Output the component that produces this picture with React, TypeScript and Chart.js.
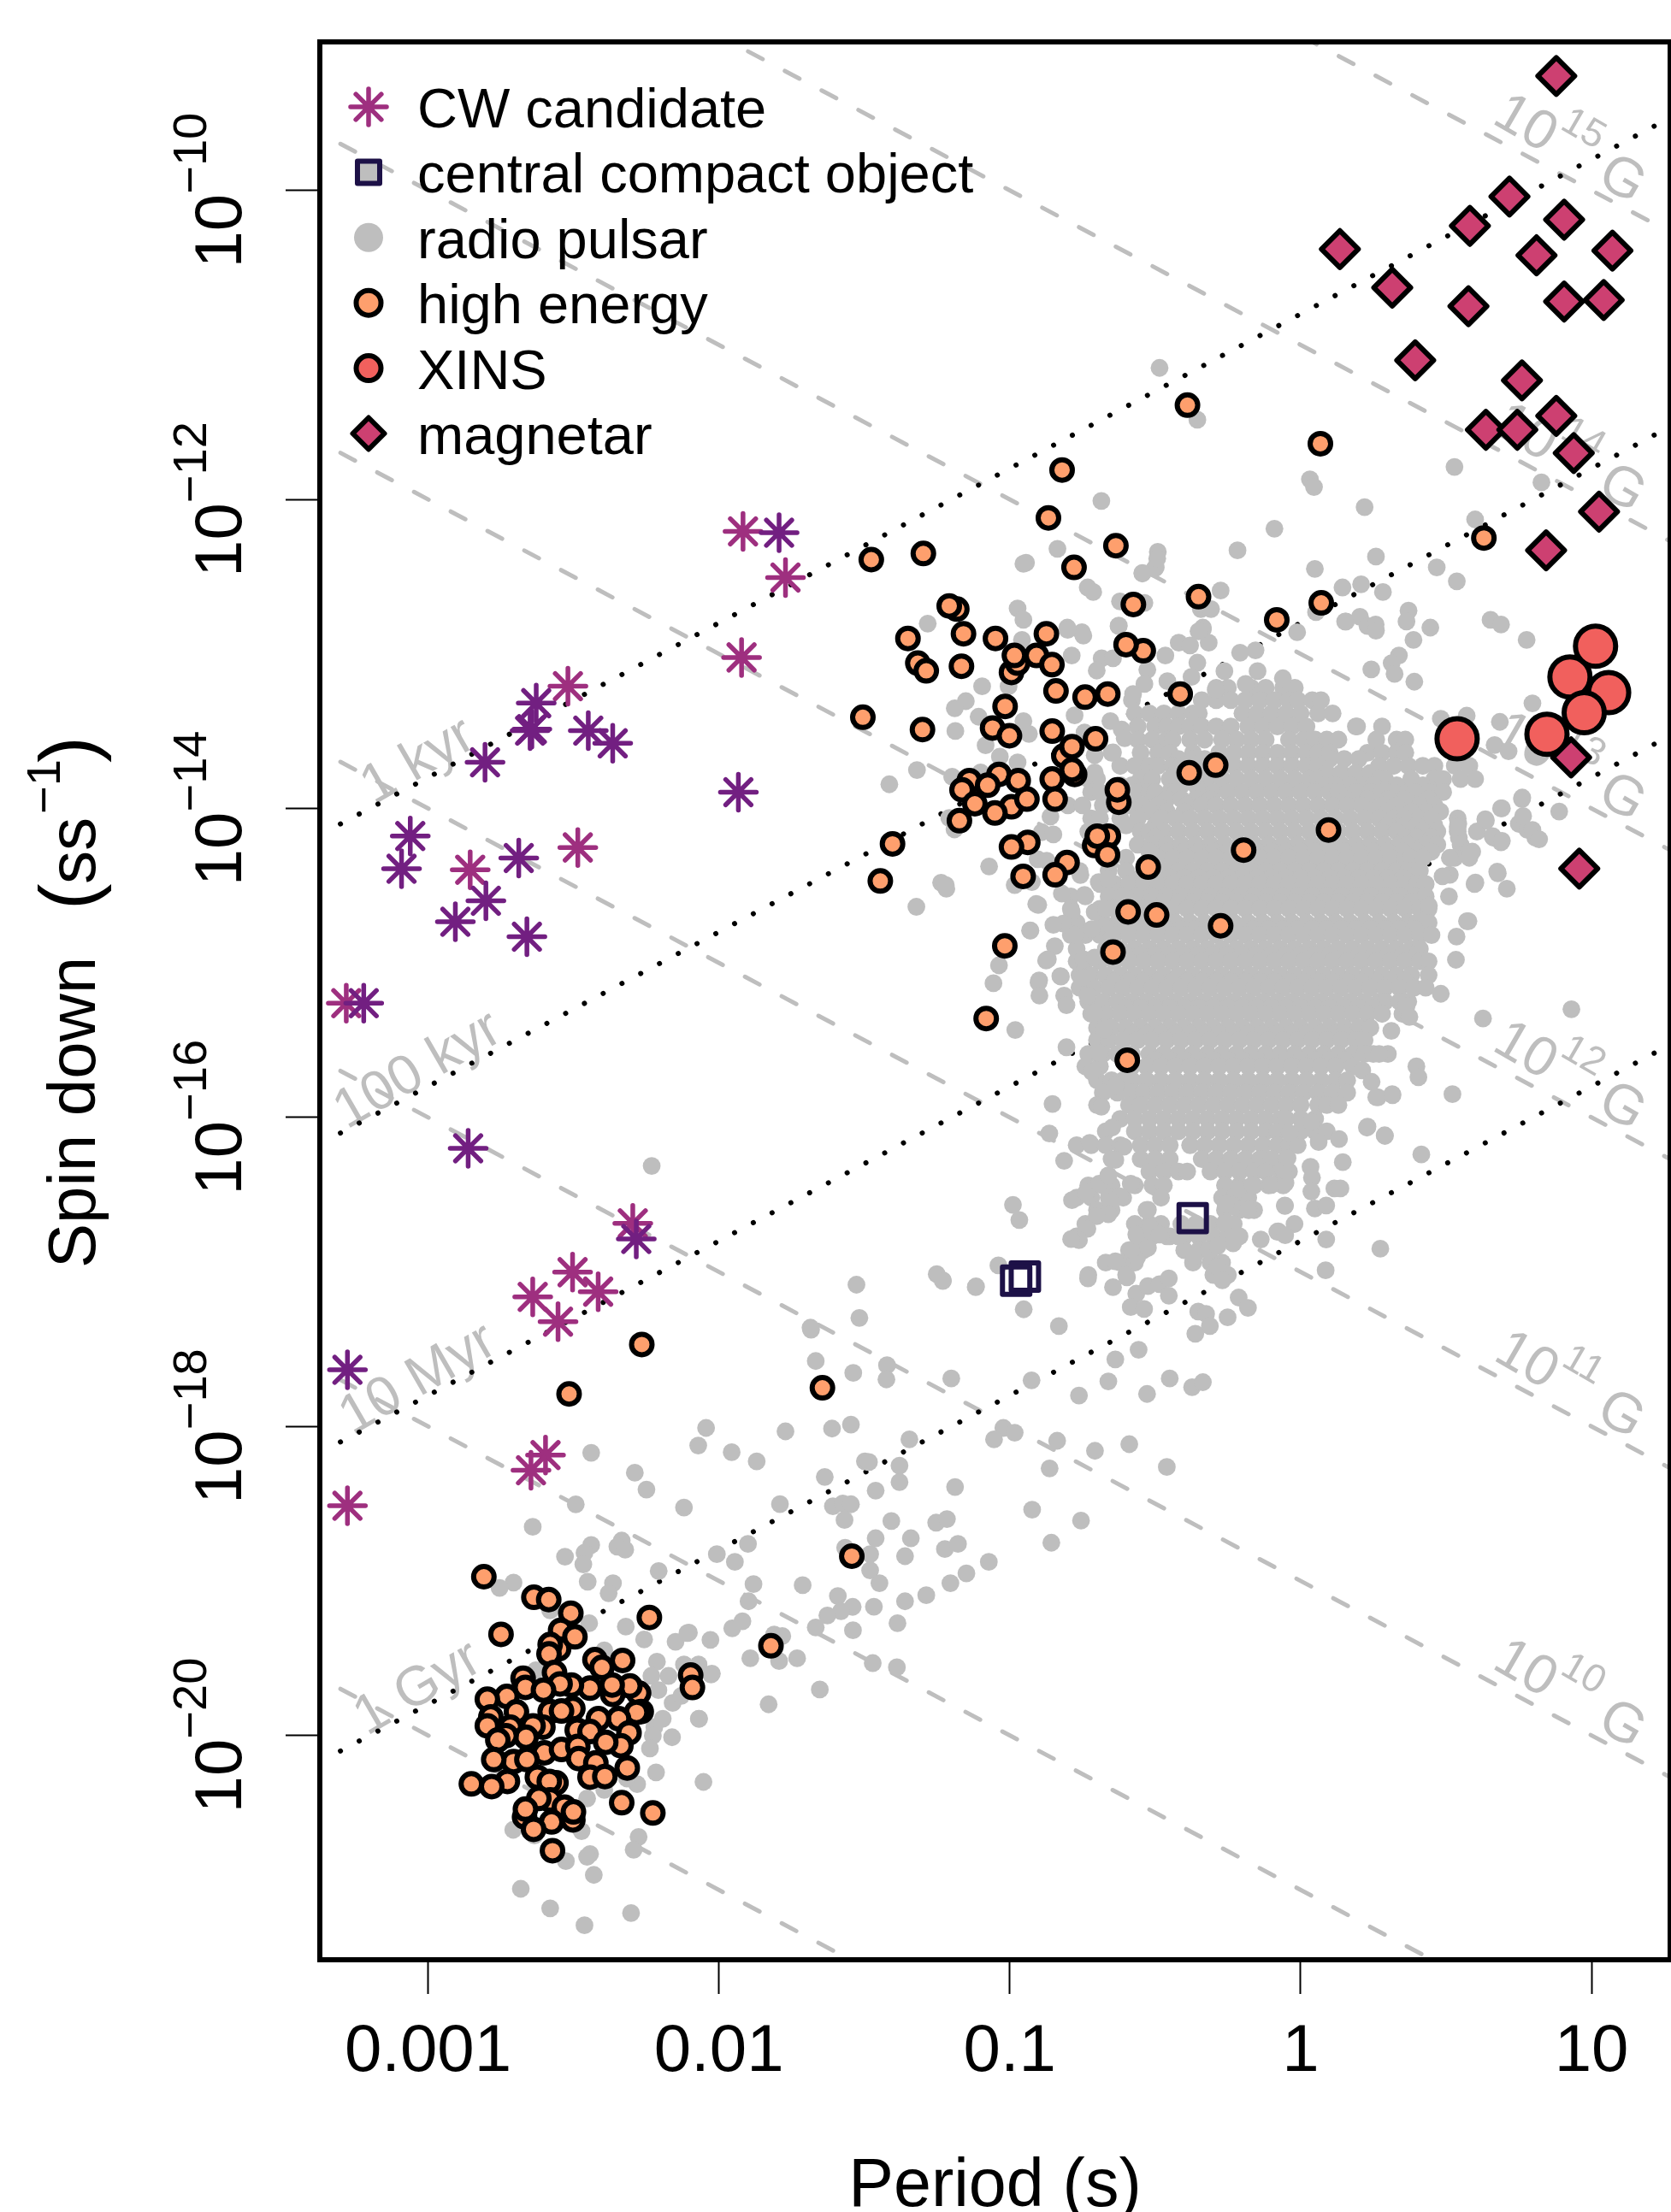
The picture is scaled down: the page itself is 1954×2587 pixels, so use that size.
import React, { useEffect, useRef } from "react";
import { Chart, registerables } from "chart.js";
import { drawPoint } from "chart.js/helpers";

Chart.register(...registerables);

// All values are log10(period / s) and log10(spin-down / s s^-1).
const xTickValues = [0.001, 0.01, 0.1, 1, 10];
const xTickLabels = ["0.001", "0.01", "0.1", "1", "10"];
const yTickValues = [1e-10, 1e-12, 1e-14, 1e-16, 1e-18, 1e-20];
const yTickExponents = ["\u221210", "\u221212", "\u221214", "\u221216", "\u221218", "\u221220"];

const cwMagenta = [
  [-1.917, -12.207], [-1.771, -12.506], [-1.922, -13.023], [-2.519, -13.209], [-2.855, -14.397], [-2.485, -14.253],
  [-3.281, -15.261], [-2.296, -16.686], [-2.503, -17.002], [-2.64, -17.162], [-2.415, -17.128], [-2.553, -17.322],
  [-2.596, -18.186], [-2.646, -18.284], [-3.277, -18.514],
];
const cwPurple = [
  [-1.793, -12.216], [-2.628, -13.319], [-2.643, -13.487], [-2.649, -13.497], [-2.449, -13.497], [-2.365, -13.579],
  [-2.804, -13.702], [-1.933, -13.895], [-3.061, -14.179], [-3.091, -14.391], [-2.688, -14.321], [-2.801, -14.598],
  [-2.906, -14.734], [-2.66, -14.831], [-3.221, -15.261], [-2.862, -16.2], [-2.284, -16.787], [-3.277, -17.634],
];
const centralCompactObjects = [[-0.371, -16.652], [-0.948, -17.03], [-0.978, -17.057]];
const xins = [[1.059, -13.25], [0.926, -13.15], [1.014, -12.95], [0.975, -13.38], [0.847, -13.52], [0.538, -13.55]];
const magnetars = [
  [0.879, -9.26], [0.718, -10.04], [0.906, -10.19], [0.582, -10.23], [1.072, -10.39], [0.811, -10.42], [0.135, -10.38],
  [0.315, -10.63], [0.577, -10.75], [0.906, -10.72], [1.042, -10.71], [0.394, -11.1], [0.761, -11.23], [0.879, -11.46],
  [0.637, -11.55], [0.745, -11.55], [0.939, -11.7], [1.026, -12.08], [0.844, -12.33], [0.93, -13.67], [0.958, -14.39],
];
const highEnergy = [
  [-0.389, -11.39], [0.068, -11.64], [-0.82, -11.81], [-0.867, -12.12], [-0.635, -12.3], [-0.779, -12.44], [0.63, -12.25],
  [-0.575, -12.68], [-0.351, -12.63], [0.071, -12.67], [-0.082, -12.78], [-1.476, -12.39], [-1.297, -12.35],
  [-1.182, -12.71], [-1.208, -12.69], [-1.35, -12.9], [-1.159, -12.87], [-1.049, -12.9], [-0.874, -12.87],
  [-1.316, -13.06], [-1.287, -13.11], [-1.166, -13.08], [-0.994, -13.12], [-0.973, -13.06], [-0.984, -13.01],
  [-0.908, -13.01], [-0.855, -13.07], [-0.541, -12.98], [-0.6, -12.94], [-0.841, -13.24], [-0.741, -13.28],
  [-0.663, -13.26], [-0.414, -13.26], [-1.016, -13.34], [-1.505, -13.41], [-1.3, -13.49], [-1.059, -13.48],
  [-1.001, -13.53], [-0.854, -13.5], [-0.705, -13.55], [-0.814, -13.66], [-0.786, -13.6], [-0.777, -13.78],
  [-0.786, -13.75], [-0.854, -13.81], [-0.383, -13.77], [-0.292, -13.72], [-1.139, -13.82], [-1.037, -13.78],
  [-1.076, -13.85], [-1.164, -13.88], [-0.971, -13.82], [-0.994, -13.99], [-1.12, -13.97], [-0.941, -13.94],
  [-1.051, -14.03], [-1.173, -14.08], [-0.844, -13.94], [-0.625, -13.96], [-0.63, -13.88], [-1.403, -14.23],
  [-1.445, -14.47], [-0.938, -14.22], [-0.994, -14.25], [-0.661, -14.18], [-0.708, -14.24], [-0.699, -14.18],
  [-0.664, -14.3], [-0.803, -14.35], [-0.844, -14.43], [-0.954, -14.44], [-0.524, -14.38], [-0.196, -14.27],
  [-0.593, -14.67], [-0.495, -14.69], [-0.275, -14.76], [-1.017, -14.89], [-0.645, -14.93], [-1.081, -15.36],
  [-0.596, -15.63], [0.096, -14.14], [-2.265, -17.47], [-2.515, -17.79], [-1.644, -17.75], [-1.543, -18.84],
  [-1.821, -19.42], [-2.097, -19.61], [-2.091, -19.69],
  [-2.808, -18.973], [-2.636, -19.106], [-2.585, -19.121], [-2.509, -19.209], [-2.749, -19.346], [-2.544, -19.32],
  [-2.551, -19.44], [-2.58, -19.412], [-2.495, -19.362], [-2.584, -19.473], [-2.239, -19.237], [-2.426, -19.51],
  [-2.331, -19.515], [-2.402, -19.56], [-2.565, -19.593], [-2.673, -19.63], [-2.665, -19.689], [-2.729, -19.748],
  [-2.276, -19.726], [-2.306, -19.68], [-2.267, -19.846], [-2.283, -19.851], [-2.345, -19.892], [-2.365, -19.735],
  [-2.367, -19.674], [-2.443, -19.694], [-2.507, -19.674], [-2.546, -19.667], [-2.603, -19.707], [-2.796, -19.766],
  [-2.784, -19.881], [-2.696, -19.848], [-2.502, -19.827], [-2.58, -19.846], [-2.541, -19.842], [-2.414, -19.892],
  [-2.717, -19.947], [-2.605, -19.947], [-2.639, -19.938], [-2.796, -19.938], [-2.663, -20.012], [-2.732, -20.002],
  [-2.76, -20.03], [-2.309, -19.984], [-2.487, -19.966], [-2.443, -19.975], [-2.337, -20.067], [-2.389, -20.045],
  [-2.6, -20.113], [-2.541, -20.091], [-2.485, -20.071], [-2.482, -20.15], [-2.423, -20.178], [-2.706, -20.169],
  [-2.66, -20.156], [-2.774, -20.156], [-2.315, -20.211], [-2.443, -20.27], [-2.392, -20.266], [-2.624, -20.27],
  [-2.56, -20.307], [-2.583, -20.298], [-2.727, -20.298], [-2.851, -20.314], [-2.781, -20.331], [-2.58, -20.418],
  [-2.619, -20.408], [-2.531, -20.464], [-2.502, -20.547], [-2.5, -20.495], [-2.668, -20.528], [-2.665, -20.477],
  [-2.575, -20.56], [-2.637, -20.608], [-2.334, -20.436], [-2.227, -20.502], [-2.572, -20.746],
];
const radioSparse = [
  [-0.485, -11.149], [-0.355, -11.485], [0.529, -11.79], [0.032, -11.87], [0.046, -11.92], [0.828, -11.89], [-0.685, -12.01],
  [0.22, -12.05], [0.6, -12.13], [-0.09, -12.19], [-0.217, -12.33], [0.259, -12.37], [0.049, -12.45], [0.468, -12.44],
  [0.537, -12.53], [-0.836, -12.32], [-0.491, -12.34], [-0.498, -12.44], [-0.544, -12.48], [-0.732, -12.57], [-0.713, -12.6],
  [-0.621, -12.66], [-0.537, -12.67], [-0.275, -12.59], [-0.343, -12.71], [-0.308, -12.71], [0.144, -12.57], [0.208, -12.55],
  [0.283, -12.6], [0.053, -12.73], [0.371, -12.72], [0.364, -12.79], [0.156, -12.79], [0.204, -12.76], [0.23, -12.82],
  [0.258, -12.81], [0.446, -12.83], [0.653, -12.78], [0.689, -12.81], [-0.626, -12.82], [-0.802, -12.83], [-0.752, -12.86],
  [-0.336, -12.83], [-0.012, -12.86], [-0.944, -12.41], [-0.953, -12.417], [-0.502, -12.448], [-0.544, -12.476],
  [-0.493, -12.383], [-1.282, -12.804], [-0.973, -12.706], [-0.953, -12.78], [-0.958, -12.909], [-0.801, -12.845],
  [-0.747, -12.882], [-0.625, -12.817], [-0.787, -13.011], [-0.419, -12.928], [-0.38, -12.946], [-0.336, -12.841],
  [-0.316, -12.928], [-0.351, -12.854], [-0.208, -12.992], [-0.155, -12.977], [-0.465, -13.011], [-0.684, -13.029],
  [-0.645, -13.029], [-0.701, -13.108], [-0.527, -13.103], [-0.355, -13.057], [-0.375, -13.149], [-0.262, -13.112],
  [-0.148, -13.112], [-0.061, -13.158], [-0.458, -13.177], [-0.537, -13.195], [-0.576, -13.26], [-0.292, -13.232],
  [-0.189, -13.195], [-1.095, -13.21], [-1.004, -13.21], [-1.151, -13.306], [-1.189, -13.352], [-1.107, -13.407],
  [-0.953, -13.435], [-0.934, -13.518], [-1.187, -13.499], [-1.083, -13.592], [-1.034, -13.665], [-0.973, -13.702],
  [-0.777, -13.398], [-0.743, -13.509], [-0.654, -13.435], [-0.615, -13.49], [-0.605, -13.546], [-0.645, -13.638],
  [-0.708, -13.656], [-0.708, -13.767], [-1.319, -13.752], [-1.414, -13.844], [-1.198, -13.795], [-1.1, -13.767],
  [-1.208, -14.062], [-1.19, -14.136], [-0.86, -14.053], [-0.89, -14.154], [-0.85, -14.169], [-1.071, -14.376],
  [-1.236, -14.481], [-1.218, -14.52], [-1.321, -14.637], [-0.904, -14.329], [-0.873, -14.339], [-0.924, -14.477],
  [-0.983, -14.496], [-0.757, -14.431], [-0.694, -14.477], [-0.661, -14.459], [-0.902, -14.625], [-0.743, -14.56],
  [-0.821, -14.551], [-0.787, -14.671], [-0.708, -14.671], [-0.816, -14.745], [-0.85, -14.754], [-0.929, -14.791],
  [-0.669, -14.652], [-0.718, -14.781], [-0.777, -14.818], [-0.649, -14.837], [-0.845, -14.892], [-0.747, -14.976],
  [-0.708, -14.966], [-0.875, -14.985], [-0.826, -15.086], [-0.899, -15.113], [-1.037, -15.016], [-1.056, -15.132],
  [-0.747, -15.095], [-1.22, -14.496], [-0.901, -15.126], [-0.898, -15.212], [-0.981, -15.434], [-0.805, -15.546],
  [-0.813, -15.212], [-0.805, -15.274], [-0.824, -15.089], [-0.869, -14.977], [-0.909, -14.619], [-0.93, -14.79],
  [-0.733, -15.212], [-0.709, -15.323], [-0.677, -15.434], [-0.693, -15.583], [-0.717, -15.706],
  [0.761, -13.94], [0.689, -14.0], [0.637, -14.08], [0.606, -14.15], [0.663, -14.19], [0.689, -14.22], [0.75, -14.1],
  [0.78, -14.14], [0.807, -14.19], [0.542, -14.1], [0.544, -14.19], [0.59, -14.28], [0.513, -14.32], [0.513, -14.43],
  [0.488, -14.44], [0.678, -14.42], [0.709, -14.52], [0.598, -14.49], [0.51, -14.57], [0.441, -14.63], [0.577, -14.73],
  [0.536, -14.83], [0.534, -14.98], [0.482, -15.2], [0.627, -15.36], [0.312, -15.44], [0.364, -15.28], [0.374, -15.35],
  [0.27, -15.59], [0.398, -15.67], [0.405, -15.74], [0.522, -15.85], [0.315, -15.85], [0.266, -15.87], [0.23, -16.06],
  [0.29, -16.12], [0.415, -16.24], [0.145, -16.29], [0.132, -16.14], [0.062, -16.16], [0.116, -16.46], [0.137, -16.46],
  [0.034, -16.32], [0.039, -16.39], [0.037, -16.48], [0.049, -16.59], [0.088, -16.57], [-0.054, -16.57], [-0.021, -16.69],
  [-0.08, -16.74], [-0.137, -16.79], [0.088, -16.79], [0.274, -16.85], [0.086, -16.99], [-0.178, -16.6], [0.931, -15.3],
  [0.777, -12.91], [0.388, -12.91], [0.338, -13.01], [0.313, -13.06], [0.391, -13.18], [0.243, -13.1], [0.194, -13.47],
  [0.323, -13.13], [0.153, -12.79], [0.259, -12.85], [0.571, -13.4], [0.482, -13.42], [0.685, -13.44], [0.797, -13.32],
  [0.762, -13.93], [0.889, -14.02], [0.667, -13.59], [0.812, -13.65], [0.715, -13.63], [0.54, -14.12], [0.635, -14.07],
  [0.692, -14.0], [0.66, -14.18], [0.692, -14.21], [0.765, -14.05], [0.797, -14.14], [0.82, -14.2], [0.676, -14.41],
  [0.601, -14.48], [0.572, -14.73], [0.212, -15.696], [0.244, -15.77], [0.26, -15.869], [0.316, -15.856],
  [-0.989, -16.566], [-0.967, -16.664], [-1.039, -16.958], [-1.117, -17.099], [-1.23, -17.055], [-0.952, -17.242],
  [-0.831, -17.351], [-0.731, -17.042], [-0.645, -17.099], [-0.597, -17.035], [-0.565, -17.141], [-0.584, -17.228],
  [-0.538, -17.24], [-0.525, -17.092], [-0.485, -17.079], [-0.453, -17.042], [-0.453, -17.154], [-0.557, -17.504],
  [-0.637, -17.566], [-1.201, -17.69], [-0.925, -17.702], [-0.762, -17.8], [-0.661, -17.709], [-0.528, -17.79],
  [-0.45, -17.69], [-0.373, -17.746], [-0.336, -17.714], [-0.213, -17.166], [-0.181, -17.233], [-0.251, -17.294],
  [-0.352, -17.257], [-0.325, -17.272], [-0.312, -17.351], [-0.362, -17.4], [-0.285, -16.968], [-0.269, -17.055],
  [-0.232, -16.815], [-0.077, -16.738], [-0.053, -16.763], [-0.054, -16.573], [-0.181, -16.598], [-0.813, -16.281],
  [-0.725, -16.165], [-0.864, -16.104], [-0.853, -15.913], [-0.685, -15.931], [-0.637, -15.795], [-0.648, -16.066],
  [-0.608, -16.19], [-0.637, -16.276], [-0.786, -16.536], [-0.738, -16.487], [-0.693, -16.43], [-0.661, -16.375],
  [-0.584, -16.43], [-0.621, -16.511], [-0.653, -16.548], [-0.661, -16.627], [-0.701, -16.64], [-0.733, -16.721],
  [-0.762, -16.795], [-0.789, -16.788], [-0.637, -16.931], [-0.562, -16.906], [-0.581, -16.857], [-0.525, -16.845],
  [-0.565, -16.758], [-0.517, -16.709], [-0.525, -16.598], [-0.485, -16.758], [-0.421, -16.77], [-0.365, -16.894],
  [-0.317, -16.857], [-0.285, -16.832], [-0.261, -16.684], [-0.258, -16.56], [-0.213, -16.462], [-0.165, -16.437],
  [-0.101, -16.437], [-0.052, -16.425], [-0.06, -16.338], [-0.045, -16.264], [0.004, -16.079], [0.036, -16.029],
  [-0.037, -16.104], [0.228, -16.066], [0.289, -16.116],
  [-1.683, -17.374], [-1.667, -17.577], [-1.538, -17.654], [-1.422, -17.604], [-1.424, -17.696], [-2.044, -18.01],
  [-2.071, -18.124], [-1.956, -18.167], [-1.87, -18.226], [-1.771, -18.032], [-1.611, -18.014], [-1.546, -17.988],
  [-1.345, -18.084], [-1.022, -18.01], [-0.983, -18.041], [-1.054, -18.084], [-0.837, -18.093], [-0.863, -18.272],
  [-0.707, -18.158], [-0.589, -18.115], [-0.46, -18.263], [-1.498, -18.226], [-1.484, -18.231], [-1.636, -18.327],
  [-1.379, -18.254], [-1.379, -18.361], [-1.461, -18.416], [-1.188, -18.392], [-1.79, -18.503], [-1.608, -18.517],
  [-1.574, -18.499], [-1.546, -18.504], [-1.568, -18.606], [-1.407, -18.613], [-1.253, -18.623], [-1.216, -18.6],
  [-0.923, -18.539], [-0.755, -18.61], [-0.857, -18.753], [-1.461, -18.724], [-1.34, -18.724], [-1.36, -18.84],
  [-1.223, -18.794], [-1.178, -18.761], [-1.072, -18.877], [-1.149, -18.951], [-1.204, -19.015], [-1.287, -19.093],
  [-1.36, -19.132], [-1.9, -18.761], [-2.007, -18.827], [-1.945, -18.877], [-1.881, -19.021], [-1.712, -19.028],
  [-1.898, -19.132], [-1.591, -19.098], [-1.54, -19.168], [-1.58, -19.196], [-1.627, -19.224], [-1.467, -19.167],
  [-1.667, -19.301], [-1.539, -19.32], [-1.386, -19.274], [-1.566, -18.785], [-1.48, -18.827], [-1.48, -18.932],
  [-1.448, -19.015], [-1.919, -19.261], [-1.954, -19.307], [-2.103, -19.335], [-2.029, -19.382], [-1.81, -19.347],
  [-1.782, -19.357], [-1.892, -19.501], [-1.793, -19.519], [-1.731, -19.501], [-1.471, -19.532], [-1.388, -19.559],
  [-2.024, -19.6], [-2.069, -19.569], [-1.653, -19.703], [-1.829, -19.799], [-2.069, -19.892],
  [-2.231, -16.314], [-1.527, -17.083], [-1.251, -17.015], [-1.23, -17.059], [-1.116, -17.094], [-1.517, -17.298],
  [-1.685, -17.361], [-2.439, -18.171], [-2.289, -18.3], [-2.249, -18.409], [-2.12, -18.525], [-2.492, -18.505],
  [-2.64, -18.65], [-2.529, -18.843], [-2.439, -18.768], [-2.462, -18.818], [-2.466, -18.893], [-2.334, -18.739],
  [-2.349, -18.778], [-2.322, -18.798], [-2.207, -18.936], [-2.451, -19.005], [-2.364, -19.015], [-2.706, -19.011],
  [-2.754, -19.045], [-2.379, -19.08], [-2.32, -19.296], [-2.446, -19.274], [-2.58, -19.191], [-2.257, -19.379],
  [-2.149, -19.394], [-2.108, -19.338], [-2.213, -19.523], [-2.232, -19.615], [-2.173, -19.615], [-2.208, -19.707],
  [-2.07, -19.541], [-2.027, -19.606], [-2.12, -19.541], [-2.159, -19.79], [-2.129, -19.744], [-2.193, -19.892],
  [-2.222, -19.947], [-2.227, -20.002], [-2.237, -20.085], [-2.161, -20.012], [-2.068, -19.892], [-2.216, -20.239],
  [-2.281, -20.316], [-2.316, -20.279], [-2.053, -20.301], [-2.394, -19.449], [-2.629, -19.578], [-2.453, -20.408],
  [-2.394, -20.353], [-2.472, -20.62], [-2.707, -20.611], [-2.634, -20.648], [-2.276, -20.657], [-2.293, -20.74],
  [-2.443, -20.768], [-2.453, -20.786], [-2.526, -20.814], [-2.43, -20.903], [-2.681, -20.993], [-2.58, -21.119],
  [-2.462, -21.229], [-2.302, -21.15],
];
// Dense body of the radio pulsar cloud, one row per spin-down value: [log10 Pdot, [log10 P, ...]]
const radioCoreRows: [number, number[]][] = [
  [-13.22, [-0.29, -0.25, -0.17, -0.12, -0.06, -0.02]],
  [-13.3, [-0.58, -0.34, -0.29, -0.24, -0.19, -0.14, -0.09, -0.04, -0.01, 0.04, 0.07]],
  [-13.385, [-0.57, -0.52, -0.47, -0.42, -0.37, -0.35, -0.2, -0.15, -0.1, -0.05, 0, 0.06, 0.11]],
  [-13.47, [-0.56, -0.5, -0.46, -0.42, -0.38, -0.34, -0.29, -0.24, -0.18, -0.13, -0.08, -0.03, 0.02, 0.19, 0.28]],
  [-13.555, [-0.56, -0.51, -0.46, -0.44, -0.38, -0.33, -0.27, -0.22, -0.17, -0.12, -0.04, 0.01, 0.05, 0.09, 0.13, 0.26, 0.33, 0.36]],
  [-13.64, [-0.65, -0.55, -0.49, -0.45, -0.37, -0.28, -0.23, -0.18, -0.13, -0.08, -0.03, 0.02, 0.06, 0.1, 0.23, 0.28, 0.33, 0.36]],
  [-13.68, [-0.42, -0.37, -0.33, 0.1, 0.15, 0.2]],
  [-13.725, [-0.62, -0.57, -0.52, -0.49, -0.44, -0.41, -0.28, -0.23, -0.18, -0.13, -0.08, -0.03, 0.02, 0.06, 0.27, 0.32, 0.37, 0.42, 0.46, 0.53, 0.58]],
  [-13.77, [-0.43, -0.36, -0.32, 0.09, 0.14, 0.19, 0.24]],
  [-13.81, [-0.73, -0.7, -0.55, -0.51, -0.45, -0.4, -0.37, -0.32, -0.27, -0.22, -0.17, -0.12, -0.07, -0.02, 0.03, 0.06, 0.27, 0.29, 0.38, 0.46, 0.49, 0.55, 0.6]],
  [-13.85, [-0.62, -0.58, -0.41, -0.36, 0.08, 0.12, 0.17, 0.22, 0.25, 0.33, 0.42]],
  [-13.895, [-0.72, -0.69, -0.57, -0.52, -0.5, -0.45, -0.43, -0.35, -0.3, -0.25, -0.2, -0.15, -0.1, -0.05, 0, 0.05, 0.1, 0.13, 0.19, 0.24, 0.28, 0.32, 0.37, 0.39, 0.44, 0.49]],
  [-13.94, [-0.46, -0.41, -0.36, -0.31, 0.16, 0.23, 0.3, 0.36, 0.44]],
  [-13.98, [-0.8, -0.75, -0.68, -0.59, -0.54, -0.49, -0.39, -0.34, -0.29, -0.24, -0.19, -0.14, -0.09, -0.04, 0.01, 0.06, 0.11, 0.16, 0.21, 0.28, 0.33, 0.41, 0.46]],
  [-14.02, [-0.52, -0.46, -0.4, 0.25, 0.3, 0.38, 0.43, 0.48]],
  [-14.065, [-0.72, -0.69, -0.62, -0.56, -0.48, -0.43, -0.38, -0.33, -0.28, -0.23, -0.18, -0.13, -0.08, -0.03, 0.02, 0.07, 0.12, 0.17, 0.22, 0.27, 0.32, 0.36, 0.41, 0.45, 0.54]],
  [-14.11, [-0.6, -0.5, 0.3, 0.36, 0.4, 0.46]],
  [-14.15, [-0.73, -0.68, -0.55, -0.52, -0.47, -0.42, -0.37, -0.32, -0.27, -0.22, -0.17, -0.12, -0.07, -0.02, 0.03, 0.08, 0.13, 0.18, 0.23, 0.28, 0.33, 0.42, 0.47, 0.54]],
  [-14.19, [-0.5, 0.36, 0.4, 0.45]],
  [-14.235, [-0.69, -0.56, -0.51, -0.46, -0.41, -0.36, -0.31, -0.26, -0.21, -0.16, -0.11, -0.06, -0.01, 0.04, 0.09, 0.14, 0.19, 0.24, 0.29, 0.34, 0.37, 0.43, 0.47, 0.55]],
  [-14.28, [-0.52, -0.46, -0.4, -0.35, -0.3, -0.25, -0.2, -0.15, -0.1, -0.05, 0, 0.05, 0.1, 0.15, 0.2, 0.25, 0.3, 0.35, 0.4, 0.45]],
  [-14.32, [-0.65, -0.6, -0.49, -0.44, -0.39, -0.34, -0.29, -0.24, -0.19, -0.14, -0.09, -0.04, 0.01, 0.06, 0.11, 0.16, 0.21, 0.26, 0.31, 0.36, 0.38, 0.42, 0.53, 0.58]],
  [-14.405, [-0.76, -0.66, -0.6, -0.47, -0.42, -0.37, -0.32, -0.27, -0.22, -0.17, -0.12, -0.07, -0.02, 0.03, 0.08, 0.13, 0.18, 0.23, 0.28, 0.33, 0.37, 0.41]],
  [-14.45, [-0.55, -0.5, -0.45, -0.4, -0.35, -0.3, -0.25, -0.2, -0.15, -0.1, -0.05, 0, 0.05, 0.1, 0.15, 0.2, 0.25, 0.3, 0.35]],
  [-14.49, [-0.69, -0.64, -0.59, -0.54, -0.49, -0.44, -0.39, -0.34, -0.29, -0.24, -0.19, -0.14, -0.09, -0.04, 0.01, 0.06, 0.11, 0.16, 0.21, 0.26, 0.31, 0.36, 0.4, 0.43]],
  [-14.57, [-0.79, -0.74, -0.66, -0.61, -0.56, -0.51, -0.46, -0.41, -0.36, -0.31, -0.26, -0.21, -0.16, -0.11, -0.06, -0.01, 0.04, 0.09, 0.14, 0.19, 0.24, 0.29, 0.34, 0.39, 0.43]],
  [-14.61, [-0.62, -0.57, -0.52, -0.47, -0.42, -0.37, -0.32, -0.27, -0.22, -0.17, -0.12, -0.07, -0.02, 0.03, 0.08, 0.13, 0.18, 0.23, 0.28, 0.33, 0.38]],
  [-14.65, [-0.79, -0.69, -0.64, -0.59, -0.54, -0.49, -0.44, -0.39, -0.34, -0.29, -0.24, -0.19, -0.14, -0.09, -0.04, 0.01, 0.06, 0.11, 0.16, 0.21, 0.26, 0.31, 0.36, 0.41, 0.44]],
  [-14.74, [-0.77, -0.68, -0.63, -0.58, -0.53, -0.48, -0.43, -0.38, -0.33, -0.28, -0.23, -0.18, -0.13, -0.08, -0.03, 0.02, 0.07, 0.12, 0.17, 0.22, 0.27, 0.32, 0.37, 0.4, 0.44]],
  [-14.78, [-0.66, -0.61, -0.56, -0.51, -0.46, -0.41, -0.36, -0.31, -0.26, -0.21, -0.16, -0.11, -0.06, -0.01, 0.04, 0.09, 0.14, 0.19, 0.24, 0.29, 0.34, 0.39]],
  [-14.82, [-0.79, -0.74, -0.69, -0.64, -0.59, -0.54, -0.49, -0.44, -0.39, -0.34, -0.29, -0.24, -0.19, -0.14, -0.09, -0.04, 0.01, 0.06, 0.11, 0.16, 0.21, 0.26, 0.31, 0.36, 0.41, 0.45]],
  [-14.91, [-0.77, -0.67, -0.62, -0.57, -0.52, -0.47, -0.42, -0.37, -0.32, -0.27, -0.22, -0.17, -0.12, -0.07, -0.02, 0.03, 0.08, 0.13, 0.18, 0.23, 0.28, 0.33, 0.38, 0.41]],
  [-14.95, [-0.65, -0.6, -0.55, -0.5, -0.45, -0.4, -0.35, -0.3, -0.25, -0.2, -0.15, -0.1, -0.05, 0, 0.05, 0.1, 0.15, 0.2, 0.25, 0.3, 0.35, 0.4]],
  [-14.99, [-0.77, -0.74, -0.69, -0.64, -0.59, -0.54, -0.49, -0.44, -0.39, -0.34, -0.29, -0.24, -0.19, -0.14, -0.09, -0.04, 0.01, 0.06, 0.11, 0.16, 0.21, 0.26, 0.31, 0.36, 0.41, 0.44]],
  [-15.08, [-0.76, -0.72, -0.67, -0.62, -0.57, -0.52, -0.47, -0.42, -0.37, -0.32, -0.27, -0.22, -0.17, -0.12, -0.07, -0.02, 0.03, 0.08, 0.13, 0.18, 0.23, 0.28, 0.33, 0.38, 0.44]],
  [-15.12, [-0.64, -0.59, -0.54, -0.49, -0.44, -0.39, -0.34, -0.29, -0.24, -0.19, -0.14, -0.09, -0.04, 0.01, 0.06, 0.11, 0.16, 0.21, 0.26, 0.31, 0.36]],
  [-15.16, [-0.76, -0.71, -0.66, -0.61, -0.56, -0.51, -0.46, -0.41, -0.36, -0.31, -0.26, -0.21, -0.16, -0.11, -0.06, -0.01, 0.04, 0.09, 0.14, 0.19, 0.24, 0.29, 0.34, 0.39, 0.43]],
  [-15.25, [-0.73, -0.68, -0.63, -0.58, -0.53, -0.48, -0.43, -0.38, -0.33, -0.28, -0.23, -0.18, -0.13, -0.08, -0.03, 0.02, 0.07, 0.12, 0.17, 0.22, 0.27, 0.29, 0.34, 0.37]],
  [-15.29, [-0.6, -0.55, -0.5, -0.45, -0.4, -0.35, -0.3, -0.25, -0.2, -0.15, -0.1, -0.05, 0, 0.05, 0.1, 0.15, 0.2, 0.25]],
  [-15.33, [-0.72, -0.67, -0.62, -0.57, -0.52, -0.47, -0.42, -0.37, -0.32, -0.27, -0.22, -0.17, -0.12, -0.07, -0.02, 0.03, 0.08, 0.13, 0.18, 0.23, 0.28, 0.35]],
  [-15.42, [-0.7, -0.65, -0.6, -0.55, -0.5, -0.45, -0.4, -0.35, -0.3, -0.25, -0.2, -0.15, -0.1, -0.05, 0, 0.05, 0.1, 0.15, 0.2, 0.24]],
  [-15.46, [-0.58, -0.53, -0.48, -0.43, -0.38, -0.33, -0.28, -0.23, -0.18, -0.13, -0.08, -0.03, 0.02, 0.07, 0.12, 0.15]],
  [-15.5, [-0.7, -0.66, -0.61, -0.56, -0.51, -0.46, -0.41, -0.36, -0.31, -0.26, -0.21, -0.16, -0.11, -0.06, -0.01, 0.04, 0.09, 0.14, 0.19, 0.22]],
  [-15.59, [-0.73, -0.68, -0.63, -0.58, -0.52, -0.47, -0.42, -0.37, -0.32, -0.27, -0.22, -0.17, -0.12, -0.07, -0.02, 0.03, 0.08, 0.13, 0.18, 0.22, 0.25, 0.3]],
  [-15.63, [-0.5, -0.45, -0.4, -0.35, -0.3, -0.25, -0.2, -0.15, -0.1, -0.05, 0, 0.05, 0.1, 0.15]],
  [-15.67, [-0.74, -0.69, -0.58, -0.53, -0.48, -0.43, -0.38, -0.33, -0.28, -0.23, -0.18, -0.13, -0.08, -0.03, 0.02, 0.07, 0.12, 0.18]],
  [-15.76, [-0.7, -0.65, -0.61, -0.58, -0.53, -0.48, -0.43, -0.38, -0.33, -0.28, -0.23, -0.18, -0.13, -0.08, -0.03, 0.02, 0.07, 0.12, 0.16]],
  [-15.84, [-0.68, -0.63, -0.58, -0.54, -0.49, -0.44, -0.39, -0.34, -0.29, -0.24, -0.19, -0.14, -0.09, -0.04, 0.01, 0.06, 0.11, 0.16]],
  [-15.92, [-0.7, -0.59, -0.55, -0.5, -0.45, -0.4, -0.35, -0.3, -0.25, -0.2, -0.15, -0.1, -0.05, 0, 0.06, 0.09, 0.13]],
  [-16.01, [-0.62, -0.57, -0.52, -0.47, -0.42, -0.37, -0.32, -0.27, -0.22, -0.17, -0.12, -0.07, -0.05, 0, 0.05]],
  [-16.09, [-0.67, -0.57, -0.52, -0.47, -0.42, -0.37, -0.32, -0.27, -0.22, -0.17, -0.12, -0.08, 0, 0.05, 0.09]],
  [-16.18, [-0.77, -0.72, -0.67, -0.62, -0.55, -0.5, -0.45, -0.38, -0.33, -0.28, -0.23, -0.18, -0.13, -0.08, -0.04, -0.01]],
  [-16.27, [-0.65, -0.55, -0.5, -0.45, -0.34, -0.29, -0.24, -0.19, -0.14, -0.1, -0.05]],
  [-16.35, [-0.52, -0.47, -0.42, -0.39, -0.31, -0.26, -0.21, -0.16, -0.12, -0.07, -0.04]],
  [-16.44, [-0.73, -0.68, -0.65, -0.57, -0.51, -0.47, -0.26, -0.21, -0.16, -0.11, -0.06]],
  [-16.52, [-0.77, -0.72, -0.66, -0.61, -0.48, -0.27, -0.23, -0.18]],
  [-16.6, [-0.7, -0.65, -0.53, -0.26, -0.21, -0.16]],
  [-16.69, [-0.74, -0.57, -0.52, -0.48, -0.41, -0.36, -0.31, -0.26, -0.23]],
  [-16.77, [-0.77, -0.56, -0.51, -0.46, -0.45, -0.4, -0.35, -0.3, -0.25, -0.21]],
  [-16.86, [-0.59, -0.54, -0.4, -0.35, -0.31]],
  [-16.94, [-0.67, -0.62, -0.57, -0.37, -0.31, -0.27]],
  [-17.02, [-0.73, -0.6, -0.3, -0.25]],
];

// Line end points
const ageLineStartLogP = [-3.301, -3.301, -3.301, -3.301];
const ageLineStartLogPdot = [-14.101, -16.101, -18.101, -20.101];
const ageLineEndLogP = [1.3, 1.3, 1.3, 1.3];
const ageLineEndLogPdot = [-9.5, -11.5, -13.5, -15.5];
const fieldLineStartLogP = [0.005, -2.026, -3.301, -3.301, -3.301, -3.301, -3.301, -3.301];
const fieldLineStartLogPdot = [-9.005, -8.974, -9.699, -11.699, -13.699, -15.699, -17.699, -19.699];
const fieldLineEndLogP = [1.3, 1.3, 1.3, 1.3, 1.3, 1.3, 1.3, 1.3];
const fieldLineEndLogPdot = [-10.3, -12.3, -14.3, -16.3, -18.3, -20.3, -22.3, -24.3];

// In-plot annotations
const fieldLabelExponents = ["15", "14", "13", "12", "11", "10"];
const fieldLabelLogP = [0.93, 0.93, 0.93, 0.93, 0.93, 0.93];
const fieldLabelLogPdot = [-9.72, -11.72, -13.72, -15.72, -17.72, -19.72];
const ageLabels = ["1 kyr", "100 kyr", "10 Myr", "1 Gyr"];
const ageLabelLogP = [-3.04, -3.04, -3.04, -3.04];
const ageLabelLogPdot = [-13.68, -15.68, -17.68, -19.68];

const legendLabels = ["CW candidate", "central compact object", "radio pulsar", "high energy", "XINS", "magnetar"];

const FONT = '"Liberation Sans", Arial, sans-serif';
const GREY = "#BEBEBE";
const C_MAGENTA = "#9E2F7F";
const C_PURPLE = "#721F81";
const C_NAVY = "#1D1147";
const C_ORANGE = "#FE9F6D";
const C_RED = "#F1605D";
const C_ROSE = "#CD4071";

const pts = (pairs: number[][]) => pairs.map(([a, b]) => ({ x: 10 ** a, y: 10 ** b }));
const segment = (x0: number, y0: number, x1: number, y1: number) => [
  { x: 10 ** x0, y: 10 ** y0 },
  { x: 10 ** x1, y: 10 ** y1 },
];
const radioAll = [
  ...radioCoreRows.flatMap(([d, ps]) => ps.map((p) => [p, d])),
  ...radioSparse,
];

function markerSet(label: string, data: number[][], o: any) {
  return {
    label,
    data: pts(data),
    showLine: false,
    pointStyle: o.style,
    pointRadius: o.r,
    pointHoverRadius: o.r,
    pointBackgroundColor: o.fill,
    pointBorderColor: o.stroke,
    pointBorderWidth: o.bw,
  };
}

const legendMarkers: any[] = [
  { style: "star", r: 21, bw: 5.5, stroke: C_MAGENTA, fill: C_MAGENTA },
  { style: "rect", r: 18.4, bw: 6, stroke: C_NAVY, fill: GREY },
  { style: "circle", r: 17, bw: 0, stroke: GREY, fill: GREY },
  { style: "circle", r: 14.5, bw: 6, stroke: "#000", fill: C_ORANGE },
  { style: "circle", r: 14.5, bw: 6, stroke: "#000", fill: C_RED },
  { style: "rectRot", r: 18.5, bw: 6, stroke: "#000", fill: C_ROSE },
];

const annotationsPlugin = {
  id: "annotations",
  beforeDatasetsDraw(chart: any) {
    const { ctx, scales } = chart;
    const { x, y } = scales;
    ctx.save();
    ctx.fillStyle = GREY;
    ctx.textBaseline = "alphabetic";
    ctx.textAlign = "left";
    fieldLabelExponents.forEach((e, i) => {
      ctx.save();
      ctx.translate(x.getPixelForValue(10 ** fieldLabelLogP[i]), y.getPixelForValue(10 ** fieldLabelLogPdot[i]));
      ctx.rotate(Math.PI / 6);
      ctx.font = `65px ${FONT}`;
      const w10 = ctx.measureText("10").width;
      const wG = ctx.measureText("G").width;
      ctx.font = `46px ${FONT}`;
      const wE = ctx.measureText(e).width;
      const total = w10 + wE + 18 + wG;
      ctx.font = `65px ${FONT}`;
      ctx.fillText("10", -total / 2, 22);
      ctx.fillText("G", -total / 2 + w10 + wE + 18, 22);
      ctx.font = `46px ${FONT}`;
      ctx.fillText(e, -total / 2 + w10, 22 - 34);
      ctx.restore();
    });
    ageLabels.forEach((t, i) => {
      ctx.save();
      ctx.translate(x.getPixelForValue(10 ** ageLabelLogP[i]), y.getPixelForValue(10 ** ageLabelLogPdot[i]));
      ctx.rotate(-Math.PI / 6);
      ctx.font = `65px ${FONT}`;
      ctx.textAlign = "center";
      ctx.fillText(t, 0, 22);
      ctx.restore();
    });
    ctx.restore();
    ctx.lineCap = "round";
    ctx.lineJoin = "round";
  },
  afterDatasetsDraw(chart: any) {
    const { ctx, chartArea: a, scales } = chart;
    ctx.save();
    ctx.lineCap = "butt";
    ctx.lineJoin = "miter";
    ctx.strokeStyle = "#000";
    ctx.lineWidth = 6;
    ctx.strokeRect(a.left, a.top, a.right - a.left, a.bottom - a.top);

    // legend
    const legendX = a.left + 57;
    const legendTop = a.top + 76;
    const legendStep = 76.4;
    ctx.lineCap = "round";
    ctx.lineJoin = "round";
    legendLabels.forEach((t, i) => {
      const m = legendMarkers[i];
      const cy = legendTop + i * legendStep;
      ctx.fillStyle = m.fill;
      ctx.strokeStyle = m.stroke;
      ctx.lineWidth = m.bw;
      drawPoint(ctx, { pointStyle: m.style, radius: m.r, rotation: 0, borderWidth: m.bw }, legendX, cy);
      ctx.fillStyle = "#000";
      ctx.font = `65px ${FONT}`;
      ctx.textAlign = "left";
      ctx.textBaseline = "alphabetic";
      ctx.fillText(t, legendX + 57, cy + 24);
    });

    // y tick labels with superscript exponents
    ctx.fillStyle = "#000";
    yTickValues.forEach((v, i) => {
      const py = scales.y.getPixelForValue(v);
      ctx.save();
      ctx.translate(282, py);
      ctx.rotate(-Math.PI / 2);
      ctx.font = `78px ${FONT}`;
      const wBase = ctx.measureText("10").width;
      ctx.font = `56px ${FONT}`;
      const wExp = ctx.measureText(yTickExponents[i]).width;
      const start = -(wBase + wExp) / 2;
      ctx.font = `78px ${FONT}`;
      ctx.fillText("10", start, 0);
      ctx.font = `56px ${FONT}`;
      ctx.fillText(yTickExponents[i], start + wBase, -41);
      ctx.restore();
    });

    // y axis title
    ctx.save();
    ctx.translate(111, 0);
    ctx.rotate(-Math.PI / 2);
    ctx.font = `78px ${FONT}`;
    ctx.fillText("Spin down", -1483, 0);
    ctx.font = `92px ${FONT}`;
    ctx.fillText("(", -1064, 0);
    ctx.font = `78px ${FONT}`;
    ctx.fillText("ss", -1034, 0);
    ctx.font = `56px ${FONT}`;
    ctx.fillText("\u22121", -952, -41);
    ctx.font = `92px ${FONT}`;
    ctx.fillText(")", -892, 0);
    ctx.restore();
    ctx.restore();
  },
};

export default function App() {
  const ref = useRef<HTMLCanvasElement | null>(null);
  useEffect(() => {
    if (!ref.current) return;
    const chart = new Chart(ref.current, {
      type: "scatter",
      plugins: [annotationsPlugin as any],
      data: {
        datasets: [
          markerSet("CW candidate (purple)", cwPurple, { style: "star", r: 21, fill: C_PURPLE, stroke: C_PURPLE, bw: 5.5 }),
          markerSet("CW candidate", cwMagenta, { style: "star", r: 21, fill: C_MAGENTA, stroke: C_MAGENTA, bw: 5.5 }),
          markerSet("XINS", xins, { style: "circle", r: 23.5, fill: C_RED, stroke: "#000", bw: 6 }),
          markerSet("high energy", highEnergy, { style: "circle", r: 12, fill: C_ORANGE, stroke: "#000", bw: 6 }),
          markerSet("magnetar", magnetars, { style: "rectRot", r: 21.5, fill: C_ROSE, stroke: "#000", bw: 6 }),
          markerSet("central compact object", centralCompactObjects, { style: "rect", r: 22.6, fill: "transparent", stroke: C_NAVY, bw: 6 }),
          markerSet("radio pulsar", radioAll, { style: "circle", r: 10.4, fill: GREY, stroke: GREY, bw: 0 }),
          ...ageLabels.map((t, i) => ({
            label: t,
            data: segment(ageLineStartLogP[i], ageLineStartLogPdot[i], ageLineEndLogP[i], ageLineEndLogPdot[i]),
            showLine: true,
            pointRadius: 0,
            borderColor: "#000",
            borderWidth: 6,
            borderDash: [0.01, 24.84],
            borderCapStyle: "round" as const,
          })),
          ...fieldLineStartLogP.map((s, i) => ({
            label: `field line ${i}`,
            data: segment(s, fieldLineStartLogPdot[i], fieldLineEndLogP[i], fieldLineEndLogPdot[i]),
            showLine: true,
            pointRadius: 0,
            borderColor: GREY,
            borderWidth: 5,
            borderDash: [19.3, 29.39],
            borderCapStyle: "round" as const,
          })),
        ],
      },
      options: {
        responsive: false,
        animation: false,
        devicePixelRatio: 1,
        events: [],
        layout: { autoPadding: false, padding: { top: 49, right: 1, left: 0, bottom: 0 } },
        plugins: { legend: { display: false }, tooltip: { enabled: false } },
        scales: {
          x: {
            type: "logarithmic",
            bounds: "data",
            min: 4.247e-4,
            max: 18.64,
            afterFit: (s: any) => {
              s.height = 295;
              s.paddingLeft = 0;
              s.paddingRight = 0;
            },
            afterBuildTicks: (s: any) => {
              s.ticks = xTickValues.map((value) => ({ value, major: true }));
            },
            grid: { drawOnChartArea: false, drawTicks: true, tickLength: 40, tickWidth: 2, tickColor: "#000" },
            border: { display: false },
            ticks: {
              autoSkip: false,
              maxRotation: 0,
              minRotation: 0,
              padding: 22,
              color: "#000",
              font: { family: FONT, size: 78 },
              callback: (v: any) => xTickLabels[xTickValues.indexOf(Number(v))] ?? "",
            },
            title: {
              display: true,
              text: "Period (s)",
              color: "#000",
              font: { family: FONT, size: 79, lineHeight: 0.5 },
              padding: { top: 0, bottom: 9 },
            },
          },
          y: {
            type: "logarithmic",
            bounds: "data",
            min: 3.53e-22,
            max: 9.14e-10,
            afterFit: (s: any) => {
              s.width = 374;
              s.paddingTop = 0;
              s.paddingBottom = 0;
            },
            afterBuildTicks: (s: any) => {
              s.ticks = yTickValues.map((value) => ({ value, major: true }));
            },
            grid: { drawOnChartArea: false, drawTicks: true, tickLength: 40, tickWidth: 2, tickColor: "#000" },
            border: { display: false },
            ticks: { display: false },
          },
        },
      } as any,
    });
    return () => chart.destroy();
  }, []);
  return (
    <div style={{ position: "absolute", left: 0, top: 0, width: 1954, height: 2587, background: "#fff" }}>
      <canvas ref={ref} width={1954} height={2587} style={{ display: "block" }} />
    </div>
  );
}
